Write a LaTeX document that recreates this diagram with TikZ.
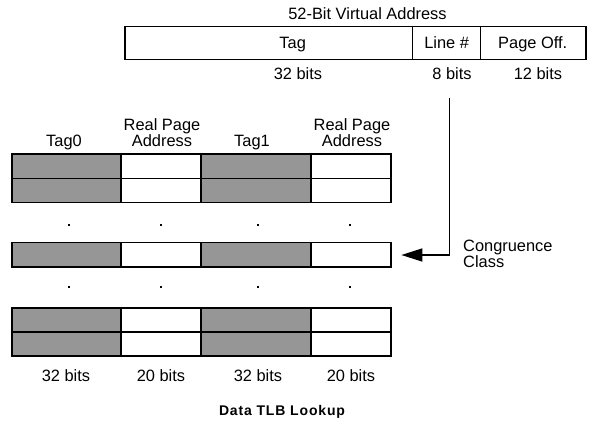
\documentclass[tikz,border=0pt]{standalone}
\usepackage{fontspec}
\setmainfont{Liberation Sans}
\usetikzlibrary{arrows.meta}
\begin{document}
\begin{tikzpicture}[x=1pt,y=-1pt,
  lbl/.style={inner sep=0pt,anchor=base,font=\fontsize{16.4}{15.3}\selectfont},
  tagcell/.style={draw=black,line width=1.7pt,fill=tagfill,minimum height=24.2pt,inner sep=0pt},
  rpacell/.style={draw=black,line width=1.7pt,fill=white,minimum height=24.2pt,inner sep=0pt},
  addrcell/.style={draw=black,line width=1.3pt,minimum height=32.6pt,inner sep=0pt},
  dotmark/.style={fill=black,inner sep=0pt,minimum size=2.2pt},
]
\definecolor{tagfill}{RGB}{150,150,150}
\useasboundingbox (0,0) rectangle (616,428);

% Virtual address
\node[lbl] (title) at (367.5,19.5) {52-Bit Virtual Address};
\node[addrcell,minimum width=287.3pt] (atag) at (268.65,43) {};
\node[addrcell,minimum width=68.4pt] (aline) at (446.5,43) {};
\node[addrcell,minimum width=105.3pt] (apage) at (533.35,43) {};
\node[lbl] (ttag) at (292.7,48.3) {Tag};
\node[lbl] (tline) at (446.7,48.3) {Line \#};
\node[lbl] (tpage) at (532.7,48.3) {Page Off.};
\node[lbl] (b32) at (298,80) {32 bits};
\node[lbl] (b8) at (452,80) {8 bits};
\node[lbl] (b12) at (538,80) {12 bits};

% Column headers
\node[lbl] (h0) at (64,146) {Tag0};
\node[lbl,align=center] (h1) at (162,146) {Real Page\\Address};
\node[lbl] (h2) at (252,146) {Tag1};
\node[lbl,align=center] (h3) at (352,146) {Real Page\\Address};

% Table rows
\foreach \r/\y in {1/166.3,2/190.5,3/254.7,4/320,5/344.2}{
  \node[tagcell,minimum width=109pt] (c\r a) at (66.5,\y) {};
  \node[rpacell,minimum width=80pt] (c\r b) at (161,\y) {};
  \node[tagcell,minimum width=110pt] (c\r c) at (256,\y) {};
  \node[rpacell,minimum width=80pt] (c\r d) at (351,\y) {};
}

% Dots
\foreach \n/\y in {u/225,l/287}{
  \node[dotmark] (d\n1) at (69,\y) {};
  \node[dotmark] (d\n2) at (160.7,\y) {};
  \node[dotmark] (d\n3) at (257.7,\y) {};
  \node[dotmark] (d\n4) at (349.7,\y) {};
}

% Bottom labels
\node[lbl] (f1) at (66,381.7) {32 bits};
\node[lbl] (f2) at (161,381.7) {20 bits};
\node[lbl] (f3) at (258,381.7) {32 bits};
\node[lbl] (f4) at (351,381.7) {20 bits};
\node[inner sep=0pt,anchor=base,font=\fontsize{14}{15}\selectfont\bfseries\addfontfeature{LetterSpace=6}] (cap) at (282,415) {Data TLB Lookup};

% Congruence class arrow
\coordinate (astart) at (449.3,98);
\coordinate (abend) at (449.3,255);
\draw[line width=1.6pt,-{Triangle[length=21pt,width=13pt]},shorten >=9.5pt]
  (astart) -- (abend) -- (c3d.east |- abend);
\node[inner sep=0pt,anchor=base west,align=left,font=\fontsize{16.4}{14.6}\selectfont] (cong) at (463,267.3) {Congruence\\Class};
\end{tikzpicture}
\end{document}
